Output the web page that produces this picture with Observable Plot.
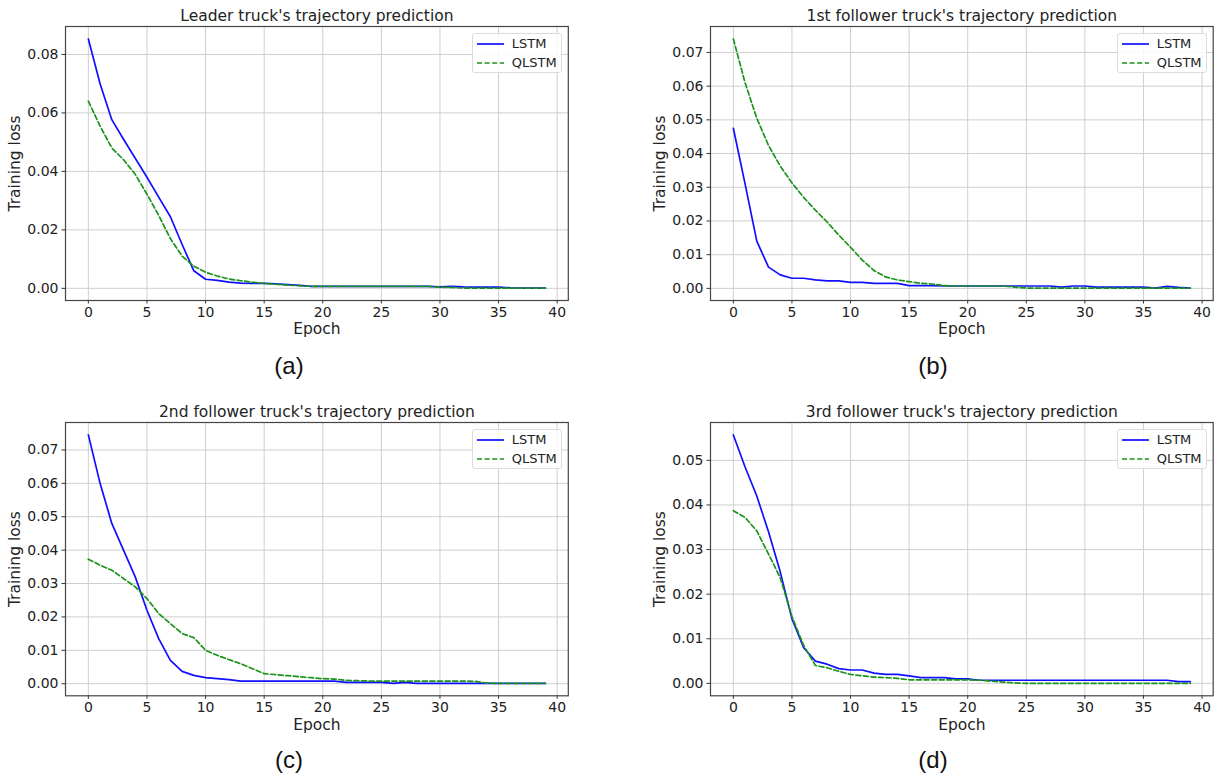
<!DOCTYPE html>
<html><head><meta charset="utf-8">
<script src="https://cdn.jsdelivr.net/npm/d3@7"></script>
<script src="https://cdn.jsdelivr.net/npm/@observablehq/plot@0.6"></script>
<style>
body{margin:0;background:#fff;}
#fig{position:relative;width:1217px;height:778px;overflow:hidden;font-family:"DejaVu Sans",sans-serif;background:#fff;}
.panel{position:absolute;}
.cap{position:absolute;font-family:"Liberation Sans",Arial,sans-serif;font-size:24px;color:#111;transform:translate(-50%,-50%);white-space:nowrap;}
.legend{position:absolute;width:90px;height:40px;box-sizing:border-box;border:1px solid #dcdcdc;border-radius:3px;background:rgba(255,255,255,0.85);font-family:"DejaVu Sans",sans-serif;font-size:13px;color:#222;}
.legend .row{position:absolute;left:0;height:16px;line-height:16px;}
.legend svg{position:absolute;left:3px;top:0;}
.legend span{position:absolute;left:39px;top:0;}
</style></head>
<body><div id="fig"></div>
<script>
const epochs = [0,1,2,3,4,5,6,7,8,9,10,11,12,13,14,15,16,17,18,19,20,21,22,23,24,25,26,27,28,29,30,31,32,33,34,35,36,37,38,39];
const xTicks = [0,5,10,15,20,25,30,35,40];
const seriesNames = ["LSTM","QLSTM"];
const titles = ["Leader truck's trajectory prediction","1st follower truck's trajectory prediction","2nd follower truck's trajectory prediction","3rd follower truck's trajectory prediction"];
const captions = ["(a)","(b)","(c)","(d)"];
const yTicksA = [0,0.02,0.04,0.06,0.08];
const yTicksB = [0,0.01,0.02,0.03,0.04,0.05,0.06,0.07];
const yTicksC = [0,0.01,0.02,0.03,0.04,0.05,0.06,0.07];
const yTicksD = [0,0.01,0.02,0.03,0.04,0.05];

const aLSTM = [0.0853,0.0700,0.0577,0.0510,0.0445,0.0380,0.0312,0.0245,0.0150,0.0060,0.0031,0.0027,0.0021,0.0018,0.0017,0.0017,0.0015,0.0013,0.0010,0.0007,0.0007,0.0007,0.0007,0.0007,0.0007,0.0007,0.0007,0.0007,0.0007,0.0007,0.0005,0.0007,0.0005,0.0004,0.0004,0.0004,0.0002,0.0001,0.0001,0.0001];
const aQLSTM = [0.0640,0.0555,0.0480,0.0440,0.0390,0.0322,0.0250,0.0170,0.0110,0.0076,0.0055,0.0042,0.0032,0.0026,0.0021,0.0017,0.0014,0.0011,0.0009,0.0007,0.0007,0.0007,0.0007,0.0007,0.0007,0.0007,0.0007,0.0007,0.0007,0.0007,0.0004,0.0003,0.0001,0.0001,0.0001,0.0001,0.0001,0.0001,0.0001,0.0001];
const bLSTM = [0.0475,0.0310,0.0140,0.0063,0.0040,0.0030,0.0030,0.0025,0.0022,0.0022,0.0018,0.0018,0.0015,0.0015,0.0015,0.0008,0.0008,0.0008,0.0007,0.0007,0.0007,0.0007,0.0007,0.0007,0.0007,0.0007,0.0007,0.0007,0.0004,0.0007,0.0007,0.0004,0.0004,0.0004,0.0004,0.0004,0.0001,0.0006,0.0003,0.0001];
const bQLSTM = [0.0740,0.0610,0.0505,0.0424,0.0363,0.0313,0.0270,0.0232,0.0197,0.0158,0.0122,0.0084,0.0053,0.0034,0.0025,0.0020,0.0015,0.0013,0.0008,0.0007,0.0007,0.0007,0.0007,0.0007,0.0004,0.0001,0.0001,0.0001,0.0001,0.0001,0.0001,0.0001,0.0001,0.0001,0.0001,0.0001,0.0001,0.0001,0.0001,0.0001];
const cLSTM = [0.0745,0.0600,0.0480,0.0400,0.0320,0.0220,0.0135,0.0070,0.0037,0.0025,0.0018,0.0015,0.0012,0.0008,0.0008,0.0008,0.0008,0.0008,0.0008,0.0008,0.0008,0.0008,0.0004,0.0004,0.0004,0.0004,0.0001,0.0004,0.0001,0.0001,0.0001,0.0001,0.0001,0.0001,0.0001,0.0001,0.0001,0.0001,0.0001,0.0001];
const cQLSTM = [0.0373,0.0355,0.0340,0.0315,0.0290,0.0255,0.0210,0.0180,0.0150,0.0138,0.0100,0.0085,0.0072,0.0060,0.0045,0.0030,0.0027,0.0024,0.0021,0.0018,0.0015,0.0014,0.0010,0.0009,0.0008,0.0008,0.0008,0.0008,0.0008,0.0008,0.0008,0.0008,0.0008,0.0007,0.0002,0.0001,0.0001,0.0001,0.0001,0.0001];
const dLSTM = [0.0557,0.0485,0.0420,0.0340,0.0250,0.0145,0.0080,0.0050,0.0043,0.0033,0.0030,0.0030,0.0023,0.0020,0.0020,0.0017,0.0013,0.0013,0.0013,0.0010,0.0010,0.0007,0.0007,0.0007,0.0007,0.0007,0.0007,0.0007,0.0007,0.0007,0.0007,0.0007,0.0007,0.0007,0.0007,0.0007,0.0007,0.0007,0.0004,0.0004];
const dQLSTM = [0.0387,0.0372,0.0342,0.0290,0.0237,0.0150,0.0085,0.0040,0.0035,0.0027,0.0020,0.0017,0.0014,0.0013,0.0011,0.0008,0.0008,0.0008,0.0008,0.0008,0.0008,0.0007,0.0005,0.0003,0.0001,0.0000,0.0000,0.0000,0.0000,0.0000,0.0000,0.0000,0.0000,0.0000,0.0000,0.0000,0.0000,0.0000,0.0000,0.0000];

const COLORS = {LSTM:"#1010ff", QLSTM:"#1a931a"};
const fig = document.getElementById("fig");

const panels = [
  {title:titles[0], cap:captions[0], lstm:aLSTM, q:aQLSTM, yTicks:yTicksA, left:0,   top:0,     width:607, mL:65,  mR:39.2, capX:289, capY:366},
  {title:titles[1], cap:captions[1], lstm:bLSTM, q:bQLSTM, yTicks:yTicksB, left:607, top:0,     width:610, mL:103, mR:4.3,  capX:933, capY:366},
  {title:titles[2], cap:captions[2], lstm:cLSTM, q:cQLSTM, yTicks:yTicksC, left:0,   top:395.7, width:607, mL:65,  mR:39.2, capX:289, capY:760},
  {title:titles[3], cap:captions[3], lstm:dLSTM, q:dQLSTM, yTicks:yTicksD, left:607, top:395.7, width:610, mL:103, mR:4.3,  capX:933, capY:760}
];

for (const p of panels) {
  const rows = [];
  epochs.forEach((e,i) => {
    rows.push({epoch:e, loss:p.lstm[i], model:seriesNames[0]});
    rows.push({epoch:e, loss:p.q[i], model:seriesNames[1]});
  });
  const lo = d3.min(rows, d => d.loss), hi = d3.max(rows, d => d.loss);
  const pad = 0.05 * (hi - lo);
  const xMin = d3.min(epochs), xMax = d3.max(epochs), xPad = 0.05 * (xMax - xMin);
  const isTop = p.top === 0;
  const marginTop = 26;
  const frameH = isTop ? 274 : 273.3;
  const marginBottom = 40;
  const chart = Plot.plot({
    width: p.width,
    height: marginTop + frameH + marginBottom,
    marginLeft: p.mL, marginRight: p.mR, marginTop, marginBottom,
    style: {fontFamily:"DejaVu Sans, sans-serif", fontSize:"14px", color:"#222", background:"transparent", overflow:"visible"},
    x: {domain:[xMin - xPad, xMax + xPad]},
    y: {domain:[lo - pad, hi + pad]},
    marks: [
      Plot.gridX(xTicks, {stroke:"#cfcfcf", strokeOpacity:1, strokeWidth:1}),
      Plot.gridY(p.yTicks, {stroke:"#cfcfcf", strokeOpacity:1, strokeWidth:1}),
      Plot.axisX(xTicks, {tickSize:3.5, tickPadding:3, label:null, stroke:"#333", fill:"#222", fontSize:14, tickFormat:d => String(d)}),
      Plot.axisY(p.yTicks, {tickSize:3.5, tickPadding:3.5, label:null, stroke:"#333", fill:"#222", fontSize:14, tickFormat:d3.format(".2f")}),
      Plot.line(rows.filter(d => d.model === "LSTM"), {x:"epoch", y:"loss", stroke:COLORS.LSTM, strokeWidth:1.7}),
      Plot.line(rows.filter(d => d.model === "QLSTM"), {x:"epoch", y:"loss", stroke:COLORS.QLSTM, strokeWidth:1.7, strokeDasharray:"5,2.6"}),
      Plot.frame({stroke:"#444", strokeWidth:1.2}),
      Plot.text([p.title], {frameAnchor:"top", dy:-10, fontSize:15.5, fill:"#222", lineAnchor:"middle"}),
      Plot.text(["Training loss"], {frameAnchor:"left", dx:-50, rotate:-90, fontSize:15.5, fill:"#222", lineAnchor:"middle", textAnchor:"middle"}),
      Plot.text(["Epoch"], {frameAnchor:"bottom", dy:29, fontSize:15.5, fill:"#222", lineAnchor:"middle"})
    ]
  });
  const div = document.createElement("div");
  div.className = "panel";
  div.style.left = p.left + "px";
  div.style.top = p.top + "px";
  div.appendChild(chart);
  fig.appendChild(div);

  // legend
  const lg = document.createElement("div");
  lg.className = "legend";
  lg.style.left = (p.left + p.width - p.mR - 6 - 90) + "px";
  lg.style.top = (p.top + marginTop + 7) + "px";
  seriesNames.forEach((name, i) => {
    const row = document.createElement("div");
    row.className = "row";
    row.style.top = (2 + i * 19) + "px";
    row.style.width = "88px";
    const dash = name === "QLSTM" ? ' stroke-dasharray="5,2.6"' : '';
    row.innerHTML = `<svg width="30" height="16"><line x1="1" y1="8" x2="28" y2="8" stroke="${COLORS[name]}" stroke-width="1.7"${dash}/></svg><span>${name}</span>`;
    lg.appendChild(row);
  });
  fig.appendChild(lg);

  const cap = document.createElement("div");
  cap.className = "cap";
  cap.style.left = p.capX + "px";
  cap.style.top = p.capY + "px";
  cap.textContent = p.cap;
  fig.appendChild(cap);
}
</script>
</body></html>
